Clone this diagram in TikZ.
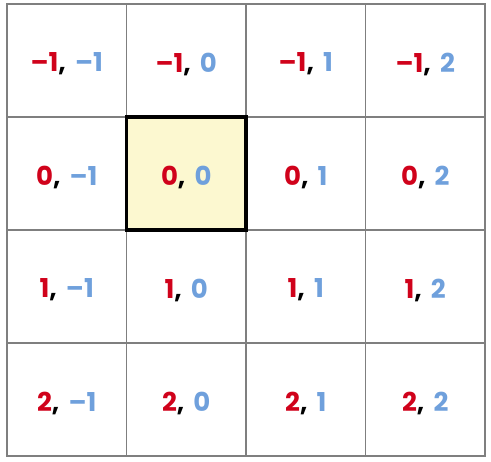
\documentclass[tikz,border=0pt]{standalone}
\usepackage{fontspec}
\setmainfont{Poppins}
\definecolor{rowred}{HTML}{D0021B}
\definecolor{colblue}{HTML}{6FA0DC}
\definecolor{hlfill}{HTML}{FCF8D0}
\definecolor{gridgray}{HTML}{7F7F7F}
\begin{document}
\begin{tikzpicture}[x=1pt,y=1pt,
  cell/.style={draw=gridgray, line width=1.2pt, minimum width=119.5pt, minimum height=113pt, inner sep=0pt},
  hl/.style={cell, draw=black, line width=3.5pt, fill=hlfill},
  lbl/.style={inner sep=0pt, font=\fontsize{26}{30}\selectfont\bfseries}]
\useasboundingbox (0,0) rectangle (491,-462);
\newcommand{\lab}[2]{\textcolor{rowred}{#1},\hspace{0.35em}\textcolor{colblue}{#2}}
\foreach \r [count=\i from 0] in {-1,0,1,2}{
  \foreach \c [count=\j from 0] in {-1,0,1,2}{
    \node[cell] (c\i\j) at ({7+59.75+119.5*\j},{-(4+56.5+113*\i)}) {};
  }
}
\node[hl] (h11) at (c11) {};
\foreach \r [count=\i from 0] in {-1,0,1,2}{
  \foreach \c [count=\j from 0] in {-1,0,1,2}{
    \node[lbl] (t\i\j) at ([yshift=-3.5pt]c\i\j.center) {\lab{\ifnum\r<0 –\the\numexpr-\r\relax\else\r\fi}{\ifnum\c<0 –\the\numexpr-\c\relax\else\c\fi}};
  }
}
\end{tikzpicture}
\end{document}
